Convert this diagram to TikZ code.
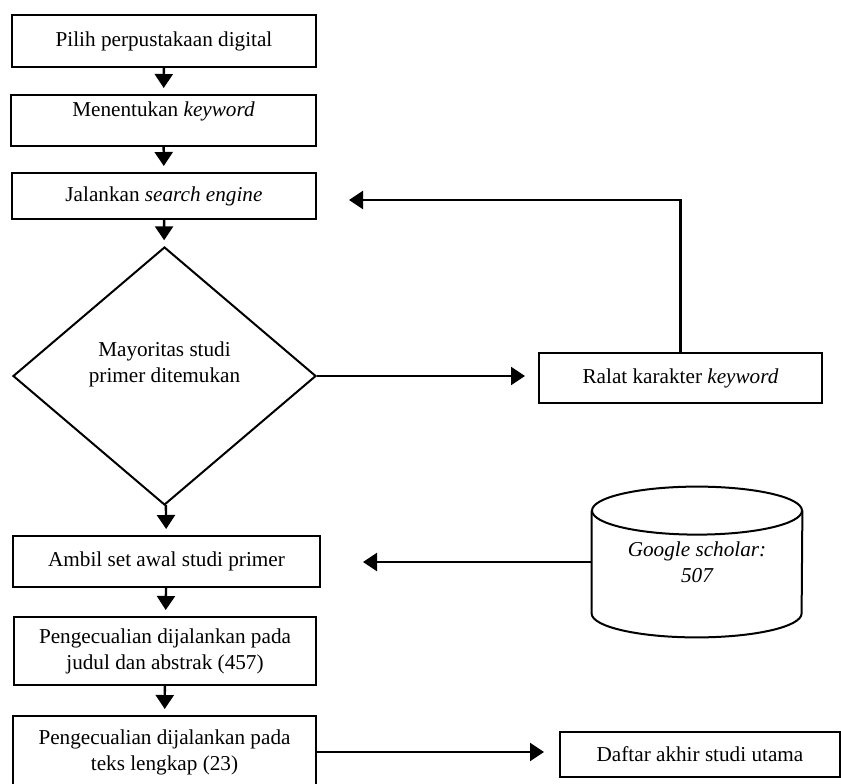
\documentclass[tikz,border=0pt]{standalone}
\usepackage{fontspec}
\setmainfont{Liberation Serif}
\usetikzlibrary{shapes.geometric,arrows.meta}

\begin{document}
\begin{tikzpicture}[
        x=0.5pt, y=-0.5pt,
        font=\fontsize{10.6}{13}\selectfont,
        kotak/.style={draw, line width=1pt, rectangle, inner sep=0pt, align=center},
        putusan/.style={draw, line width=1pt, diamond, inner sep=0pt, align=center},
        panah/.style={->, line width=1.2pt, shorten >=3pt},
        >={Triangle[width=9pt,length=7pt]} % ujung panah
        ]
    \clip (0,0) rectangle (841,783);

    % Alur utama
    \node[kotak, minimum width=152pt, minimum height=26pt] (pilih) at (164,41)
        {Pilih perpustakaan digital};
    \node[kotak, minimum width=152.5pt, minimum height=25.5pt,
          text height=7pt, text depth=11pt] (tentukan) at (163.5,120.5)
        {Menentukan \textit{keyword}};
    \node[kotak, minimum width=152pt, minimum height=23pt] (jalan) at (164,196)
        {Jalankan \textit{search engine}};
    \node[putusan, minimum width=151.5pt, minimum height=129pt,
          text height=20pt, text depth=14pt] (mayor) at (164.5,376)
        {Mayoritas studi\\primer ditemukan};
    \node[kotak, minimum width=153.5pt, minimum height=25.5pt] (ambil) at (166.5,561.5)
        {Ambil set awal studi primer};
    \node[kotak, minimum width=151pt, minimum height=34pt] (judul) at (165,651)
        {Pengecualian dijalankan pada\\judul dan abstrak (457)};
    \node[kotak, minimum width=151.5pt, minimum height=36pt] (teks) at (164.5,752)
        {Pengecualian dijalankan pada\\teks lengkap (23)};

    % Sisi kanan
    \node[kotak, minimum width=141.5pt, minimum height=25pt] (ralat) at (680.5,378)
        {Ralat karakter \textit{keyword}};
    \node[inner sep=0pt, align=center, minimum width=105pt, minimum height=75pt,
          font=\fontsize{10.6}{13}\selectfont\itshape] (scholar) at (697,562)
        {Google scholar:\\507};
    \node[kotak, minimum width=140pt, minimum height=22.5pt] (daftar) at (700,754.5)
        {Daftar akhir studi utama};

    % Basis data
    \draw[line width=1pt] ([yshift=-12pt]scholar.north) ellipse [x radius=52.5pt, y radius=12pt];
    \draw[line width=1pt] ([yshift=-12pt]scholar.north west)
            -- ([yshift=12pt]scholar.south west)
            arc [start angle=180, end angle=360, x radius=52.5pt, y radius=12pt]
            -- ([yshift=-12pt]scholar.north east);

    % Panah
    \draw[panah] (pilih) -- (tentukan);
    \draw[panah] (tentukan) -- (jalan);
    \draw[panah] (jalan) -- (mayor);
    \draw[panah] (mayor) -- (ambil);
    \draw[panah] (ambil) -- (judul);
    \draw[panah] (judul) -- (teks);
    \draw[panah, shorten >=6.5pt] (mayor.east) -- (mayor.east -| ralat.west);
    \draw[panah, shorten >=16pt] (ralat.north) |- ([yshift=-2pt]jalan.east);
    \draw[panah, shorten >=21pt] (scholar.west) -- (scholar.west -| ambil.east);
    \draw[panah, shorten >=7.5pt] (teks.east) -- (teks.east -| daftar.west);

\end{tikzpicture}
\end{document}
